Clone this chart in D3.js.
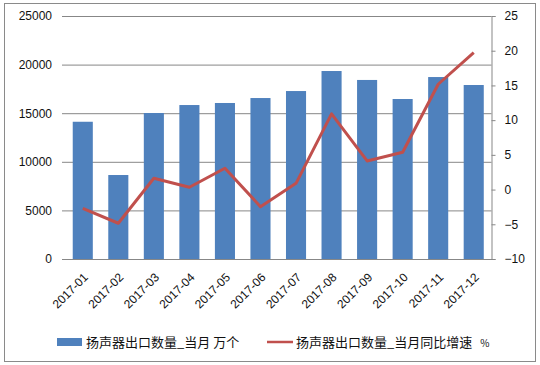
<!DOCTYPE html>
<html><head><meta charset="utf-8">
<script src="https://cdn.jsdelivr.net/npm/d3@7/dist/d3.min.js"></script>
<style>body{margin:0;background:#fff}svg{display:block}</style>
</head><body>
<svg id="c" width="540" height="365"></svg>
<script>
const categories = ["2017-01","2017-02","2017-03","2017-04","2017-05","2017-06","2017-07","2017-08","2017-09","2017-10","2017-11","2017-12"];
const volume = [14120, 8640, 15020, 15840, 16050, 16560, 17280, 19340, 18420, 16460, 18720, 17900];
const growth = [-2.7, -4.85, 1.63, 0.33, 3.07, -2.46, 0.9, 10.9, 4.12, 5.37, 15.17, 19.72];
const leftTicks = [0, 5000, 10000, 15000, 20000, 25000];
const rightTicks = [-10, -5, 0, 5, 10, 15, 20, 25];
const seriesNames = ["扬声器出口数量_当月 万个", "扬声器出口数量_当月同比增速"];
const unit2 = "%";

const svg = d3.select("#c");
const L = 65, R = 491.5, T = 16, B = 259;
const font = "'Liberation Sans', Arial, sans-serif";
const cjk = "'Noto Sans CJK SC', sans-serif";

svg.append("rect").attr("x",4.5).attr("y",3.5).attr("width",531).attr("height",358)
  .attr("fill","#fff").attr("stroke","#8a8a8a");

const x = d3.scaleBand().domain(categories).range([L, R]).paddingInner(0.435).paddingOuter(0.2175);
const y = d3.scaleLinear().domain([0, 25000]).range([B, T]);
const y2 = d3.scaleLinear().domain([-10, 25]).range([B, T]);

// gridlines + left axis
const gl = svg.append("g").attr("transform",`translate(${L},0)`)
  .call(d3.axisLeft(y).tickValues(leftTicks).tickSize(-(R-L)).tickPadding(13).tickFormat(d3.format("d")));
gl.select(".domain").remove();
gl.selectAll(".tick line").attr("stroke","#878787").attr("x1", -3);
gl.selectAll(".tick text").attr("font-family",font).attr("font-size",12).attr("fill","#111");

// bars
svg.append("g").selectAll("rect").data(volume).join("rect")
  .attr("x",(d,i)=>x(categories[i])).attr("width",x.bandwidth())
  .attr("y",d=>y(d)).attr("height",d=>B-y(d)).attr("fill","#4F81BD");

// bottom axis
const gx = svg.append("g").attr("transform",`translate(0,${B})`)
  .call(d3.axisBottom(x).tickSize(0).tickPadding(0));
gx.select(".domain").attr("stroke","#878787");
gx.selectAll(".tick text").attr("font-family",font).attr("font-size",12).attr("fill","#111")
  .attr("text-anchor","end").attr("dy","0").attr("y",0)
  .attr("transform","translate(6,19) rotate(-45)");

// right axis
const gr = svg.append("g").attr("transform",`translate(${R},0)`)
  .call(d3.axisRight(y2).tickValues(rightTicks).tickSize(4).tickPadding(9));
gr.select(".domain").attr("stroke","#878787");
gr.selectAll(".tick line").attr("stroke","#878787");
gr.selectAll(".tick text").attr("font-family",font).attr("font-size",12).attr("fill","#111");

// line
const line = d3.line().x((d,i)=>x(categories[i])+x.bandwidth()/2).y(d=>y2(d));
svg.append("path").datum(growth).attr("d",line).attr("fill","none")
  .attr("stroke","#C0504D").attr("stroke-width",3).attr("stroke-linejoin","round");

// legend
const lg = svg.append("g");
lg.append("rect").attr("x",57).attr("y",338).attr("width",25).attr("height",8).attr("fill","#4F81BD");
lg.append("text").attr("x",86).attr("y",347).attr("font-family",cjk).attr("font-size",13).attr("fill","#111").text(seriesNames[0]);
lg.append("line").attr("x1",267).attr("x2",293).attr("y1",342).attr("y2",342).attr("stroke","#C0504D").attr("stroke-width",2.5);
const t2 = lg.append("text").attr("x",296).attr("y",347).attr("font-family",cjk).attr("font-size",13).attr("fill","#111");
t2.append("tspan").text(seriesNames[1]);
t2.append("tspan").attr("dx",8).attr("font-size",10).text(unit2);
</script>
</body></html>
